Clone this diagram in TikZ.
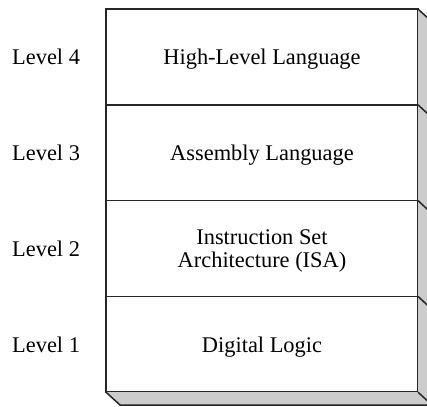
\documentclass[tikz,border=0pt]{standalone}
\usepackage{fontspec}
\setmainfont{Liberation Serif}
\usepackage{xcolor}
\usetikzlibrary{positioning}

\begin{document}
\begin{tikzpicture}[x=0.5pt,y=-0.5pt,
                    layerbox/.style={
                         draw=black!85, line width=0.75pt,
                         minimum width=156pt, minimum height=47.9pt,
                         inner sep=0pt, outer sep=0pt, align=center,
                         text depth=0pt,
                         font=\fontsize{11.2}{11.5}\selectfont
                         },
                    levellabel/.style={
                         inner sep=0pt, outer sep=0pt, text depth=0pt,
                         font=\fontsize{11.2}{13}\selectfont
                         },
                    sideline/.style={draw=black!85, line width=0.75pt}
                   ]
  \useasboundingbox (0,0) rectangle (427,406);
  \clip (0,0) rectangle (427,406);

  \node[layerbox] (lvlFour) at (262,56.9) {High-Level Language};
  \node[layerbox, below=0pt of lvlFour] (lvlThree) {Assembly Language};
  \node[layerbox, below=0pt of lvlThree] (lvlTwo) {Instruction Set\\Architecture (ISA)};
  \node[layerbox, below=0pt of lvlTwo] (lvlOne) {Digital Logic};

  % shadow faces
  \fill[black!20] (lvlFour.north east) -- ++(14,13) coordinate (backTop)
       -- ++(0,383) coordinate (backCorner) -- ++(-312,0) coordinate (backLeft)
       -- (lvlOne.south west) -- (lvlOne.south east) -- cycle;
  \draw[sideline] (lvlFour.north east) -- (backTop);
  \draw[sideline] (lvlOne.south west) -- (backLeft) -- (backCorner);
  \draw[sideline] (lvlOne.south east) -- (backCorner);
  \foreach \lvl in {lvlFour,lvlThree,lvlTwo}
    \draw[sideline] (\lvl.south east) -- ++(14,13);

  \node[levellabel, left=13pt of lvlFour] (labFour) {Level 4};
  \node[levellabel, left=13pt of lvlThree] (labThree) {Level 3};
  \node[levellabel, left=13pt of lvlTwo] (labTwo) {Level 2};
  \node[levellabel, left=13pt of lvlOne] (labOne) {Level 1};
\end{tikzpicture}
\end{document}
